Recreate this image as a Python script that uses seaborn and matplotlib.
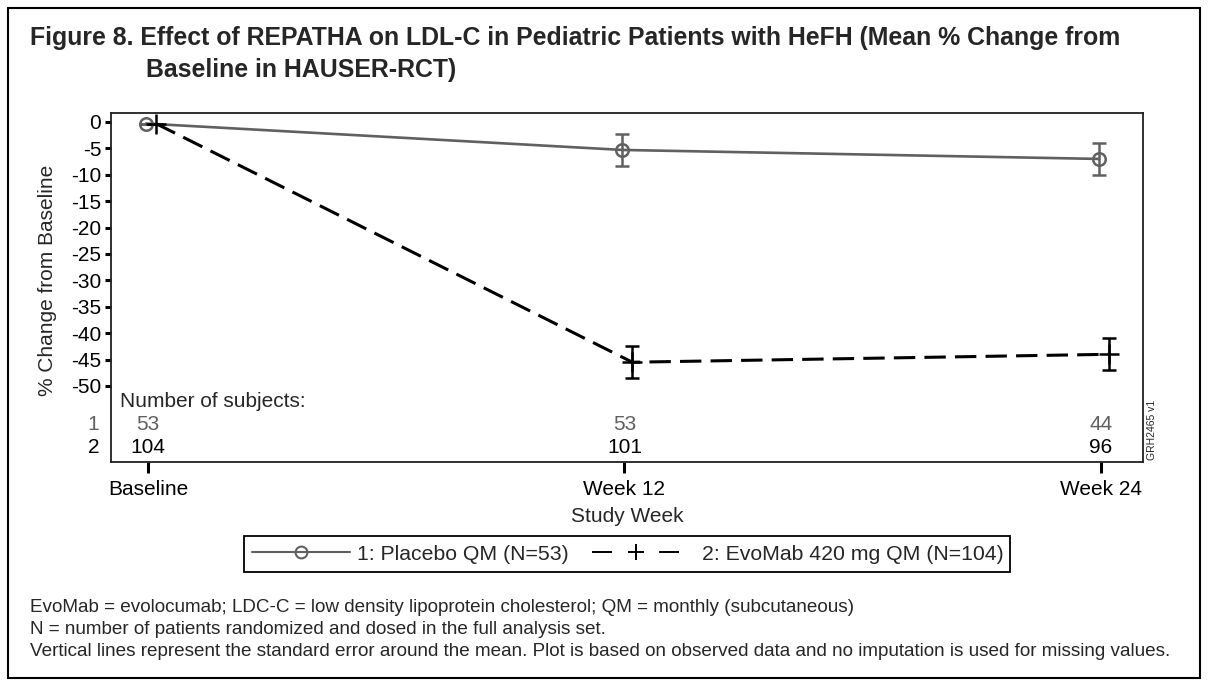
import matplotlib
matplotlib.use("Agg")
import matplotlib.pyplot as plt
import matplotlib.transforms as mtransforms
from matplotlib.patches import Rectangle
from matplotlib.lines import Line2D
import seaborn as sns
import pandas as pd
import numpy as np

# ---- data ----
weeks = [0, 12, 24]
tick_labels = ["Baseline", "Week 12", "Week 24"]
placebo_mean = [-0.3, -5.3, -7.0]
placebo_se = [0.0, 3.1, 3.0]
evomab_mean = [-0.3, -45.5, -44.0]
evomab_se = [0.0, 3.0, 3.0]
placebo_n = [53, 53, 44]
evomab_n = [104, 101, 96]
series_names = ["1: Placebo QM (N=53)", "2: EvoMab 420 mg QM (N=104)"]

placebo_x = [w - 0.05 for w in weeks]
evomab_x = [w + 0.2 for w in weeks]

df = pd.DataFrame({
    "week": placebo_x + evomab_x,
    "change": placebo_mean + evomab_mean,
    "group": [series_names[0]] * 3 + [series_names[1]] * 3,
})

sns.set_style("ticks")
plt.rcParams["font.family"] = ["Liberation Sans", "DejaVu Sans"]

FS = 15
W, H = 1208, 686
fig = plt.figure(figsize=(12.08, 6.86), dpi=100)
ax = fig.add_axes([0.0919, 0.3265, 0.8543, 0.5088])

gray = "#606060"
sns.lineplot(data=df[df.group == series_names[0]], x="week", y="change", ax=ax,
             color=gray, lw=1.9, legend=False)
sns.lineplot(data=df[df.group == series_names[1]], x="week", y="change", ax=ax,
             color="black", lw=2.2, legend=False)
ax.lines[1].set_dashes([7, 3])

ax.errorbar(placebo_x, placebo_mean, yerr=placebo_se, fmt="o", mfc="none",
            mec=gray, mew=1.8, ms=9, ecolor=gray, elinewidth=1.8, capsize=5, capthick=1.8)
ax.errorbar(evomab_x, evomab_mean, yerr=evomab_se, fmt="+", color="black",
            ms=14, mew=1.8, ecolor="black", elinewidth=1.8, capsize=5, capthick=1.8)

ax.set_xlim(-0.93, 25.06)
ax.set_ylim(-64.4, 1.7)
ax.set_yticks(np.arange(0, -51, -5))
ax.set_yticklabels([str(v) for v in np.arange(0, -51, -5)])
ax.set_xticks(weeks)
ax.set_xticklabels(tick_labels)
ax.tick_params(axis="both", labelsize=FS, width=2.2, color="black", labelcolor="black")
ax.tick_params(axis="y", length=4, pad=3)
ax.tick_params(axis="x", length=8, pad=5)
for s in ax.spines.values():
    s.set_visible(True)
    s.set_linewidth(1.3)
    s.set_color("#202020")
ax.set_xlabel("Study Week", fontsize=FS, labelpad=6)
ax.set_ylabel("% Change from Baseline", fontsize=FS)
ax.yaxis.set_label_coords(-0.052, 0.52)

# Number of subjects
bt = mtransforms.blended_transform_factory(ax.transAxes, ax.transData)
ax.text(0.009, -53.0, "Number of subjects:", transform=bt, fontsize=FS, va="center", ha="left")
for w, n1, n2 in zip(weeks, placebo_n, evomab_n):
    ax.text(w, -57.2, str(n1), color=gray, fontsize=FS, ha="center", va="center")
    ax.text(w, -61.7, str(n2), color="black", fontsize=FS, ha="center", va="center")
ax.text(-0.017, -57.2, "1", color=gray, fontsize=FS, ha="center", va="center", transform=bt)
ax.text(-0.017, -61.7, "2", color="black", fontsize=FS, ha="center", va="center", transform=bt)

fig.text(1152 / W, 1 - 430 / H, "GRH2465 v1", rotation=90, fontsize=7.5, ha="center", va="center")

# legend (two parts sharing one frame)
LFS = 15.3
leg_y = 1 - 554 / H
h1 = Line2D([0], [0], color=gray, lw=1.5, marker="o", mfc="none", mec=gray, ms=8.5, mew=1.5)
h2 = Line2D([0], [0], color="black", lw=1.4, marker="+", ms=12, mew=1.4,
            linestyle=(0, (10.3, 24.2)))
fig.legend([h1], [series_names[0]], loc="center left", bbox_to_anchor=(252 / W, leg_y),
           fontsize=LFS, frameon=False, handlelength=4.61, handletextpad=0.33,
           borderpad=0, borderaxespad=0)
fig.legend([h2], [series_names[1]], loc="center left", bbox_to_anchor=(592 / W, leg_y),
           fontsize=LFS, frameon=False, handlelength=4.1, handletextpad=1.08,
           borderpad=0, borderaxespad=0)
fig.patches.append(Rectangle((244 / W, 1 - 572 / H), 766 / W, 36 / H, transform=fig.transFigure,
                             fill=False, edgecolor="black", linewidth=1.3))

# title
TFS = 17.9
fig.text(30 / W, 1 - 38 / H, "Figure 8. Effect of REPATHA on LDL-C in Pediatric Patients with HeFH (Mean % Change from",
         fontsize=TFS, fontweight="bold", ha="left", va="center")
fig.text(146 / W, 1 - 70 / H, "Baseline in HAUSER-RCT)",
         fontsize=TFS, fontweight="bold", ha="left", va="center")

# footnotes
foot = [
    "EvoMab = evolocumab; LDC-C = low density lipoprotein cholesterol; QM = monthly (subcutaneous)",
    "N = number of patients randomized and dosed in the full analysis set.",
    "Vertical lines represent the standard error around the mean. Plot is based on observed data and no imputation is used for missing values.",
]
for i, t in enumerate(foot):
    fig.text(30 / W, 1 - (607 + 22.5 * i) / H, t, fontsize=13.6, ha="left", va="center")

fig.patches.append(Rectangle((8 / W, 8 / H), 1192 / W, 670 / H, transform=fig.transFigure,
                             fill=False, edgecolor="black", linewidth=1.5))

fig.savefig("out.png", dpi=100)
